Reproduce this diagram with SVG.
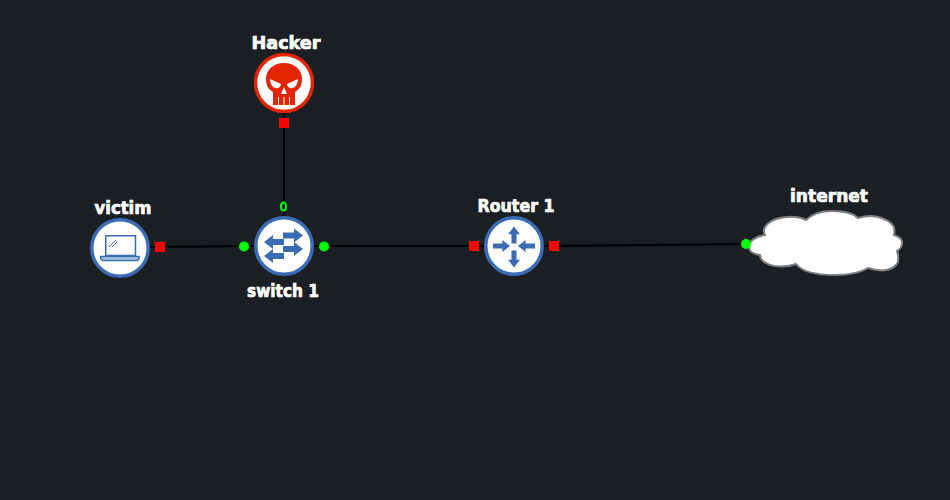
<svg xmlns="http://www.w3.org/2000/svg" width="950" height="500" viewBox="0 0 950 500">
<style>
.bg{fill:#1b1e22}
.wire{stroke:#000;stroke-width:2;fill:none}
.red{fill:#f00}
.green{fill:#0f0}
.disc{fill:#fff;stroke:#3a6cb4;stroke-width:3.500}
.arrow{fill:#3a6cb4}
.lbl{font-family:"DejaVu Sans",sans-serif;font-weight:700;font-size:17px;fill:#fff;stroke:#fff;stroke-width:.7;text-anchor:middle}
</style>
<defs>
<path id="ar" class="arrow" d="M-10,-3H1V-7L10,0L1,7V3H-10Z"/>
</defs>
<rect class="bg" width="950" height="500"/>
<g id="connectors">
<path class="wire" d="M150,247L254,246"/>
<path class="wire" d="M314,246H484"/>
<path class="wire" d="M544,246L750,244"/>
<path class="wire" d="M284,113V216"/>
</g>
<g id="hacker">
<text class="lbl" x="286" y="49" textLength="69" lengthAdjust="spacingAndGlyphs">Hacker</text>
<circle cx="284" cy="83" r="28.500" fill="#fff" stroke="#e32400" stroke-width="3.500"/>
<path fill="#e32400" fill-rule="evenodd" d="M284,63C273,63 266,70 266,79C266,85 268,89 273,92V105H295V92C300,89 302,85 302,79C302,70 295,63 284,63ZM270,79L281,84C281,87 278,89 275,88C272,87 270,83 270,79ZM298,79C298,83 296,87 293,88C290,89 287,87 287,84ZM284,87L287,94H281Z"/>
<path stroke="#fff" stroke-width="1" d="M278.500,97V105M284,97V105M289.500,97V105"/>
<rect class="red" x="279" y="118" width="10" height="10"/>
</g>
<g id="victim">
<text class="lbl" x="123" y="214" textLength="57" lengthAdjust="spacingAndGlyphs">victim</text>
<circle class="disc" cx="120" cy="248" r="28.250"/>
<path fill="none" stroke="#3a6cb4" stroke-width="1.500" d="M105.750,235.750H135.500V255.500H105.750Z"/>
<path fill="none" stroke="#3a6cb4" stroke-width="1" d="M109,247L116,240M112,247L117,242"/>
<path fill="#a9c0e0" stroke="#3a6cb4" stroke-width="1.500" d="M100.750,256.500H139V259L137,260.500H103L100.750,259Z"/>
<rect class="red" x="155" y="242" width="10" height="10"/>
</g>
<g id="switch1">
<text class="lbl" x="283" y="297" textLength="72" lengthAdjust="spacingAndGlyphs">switch 1</text>
<circle class="disc" cx="284" cy="246" r="28.250"/>
<use href="#ar" transform="translate(293,235.500)"/>
<use href="#ar" transform="translate(293,249)"/>
<use href="#ar" transform="translate(274,242) rotate(180)"/>
<use href="#ar" transform="translate(274,256) rotate(180)"/>
<circle class="green" cx="244" cy="246.500" r="5"/>
<circle class="green" cx="324" cy="246.500" r="5"/>
<ellipse cx="283.500" cy="206.500" rx="2.500" ry="4" fill="none" stroke="#0f0" stroke-width="2"/>
</g>
<g id="router1">
<text class="lbl" x="516" y="212" textLength="77" lengthAdjust="spacingAndGlyphs">Router 1</text>
<circle class="disc" cx="514" cy="246" r="28.250"/>
<use href="#ar" transform="translate(514,235) rotate(-90) scale(.85)"/>
<use href="#ar" transform="translate(514,259) rotate(90) scale(.85)"/>
<use href="#ar" transform="translate(501.500,246) scale(.85)"/>
<use href="#ar" transform="translate(526.500,246) rotate(180) scale(.85)"/>
<rect class="red" x="469" y="241" width="10" height="10"/>
<rect class="red" x="549" y="241" width="10" height="10"/>
</g>
<g id="internet">
<text class="lbl" x="829" y="202" textLength="78" lengthAdjust="spacingAndGlyphs">internet</text>
<path fill="#fff" stroke="#7b7f82" stroke-width="2" d="M749,247C749,241 756,236 765,235C761,228 768,221 780,218C790,216 800,217 806,220C813,213 822,211 832,211C845,211 854,214 858,218C868,215 878,216 884,219C892,222 896,227 894,235C900,237 903,240 902,244C902,247 899,250 897,251C899,257 899,262 896,265C891,271 880,272 868,268C860,273 848,275 835,275C818,275 802,272 796,264C786,268 772,267 766,263C762,261 760,258 760,255C753,254 749,251 749,247Z"/>
<circle class="green" cx="746" cy="244" r="5"/>
</g>
</svg>
